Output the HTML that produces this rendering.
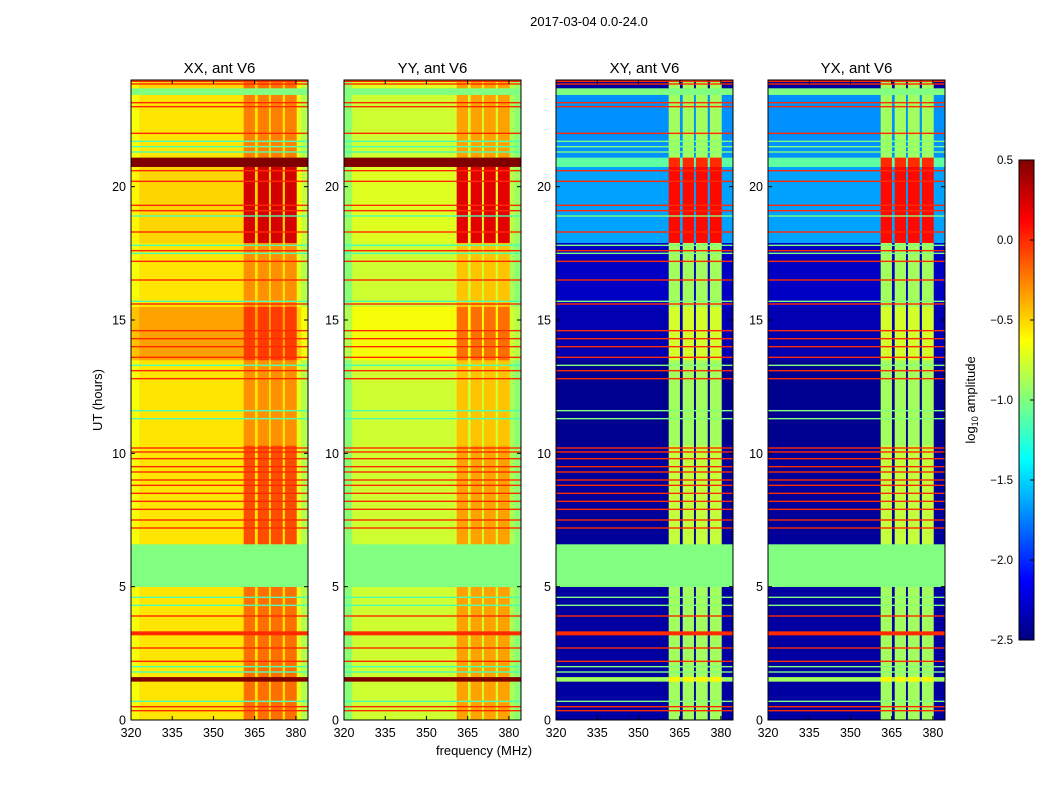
<!DOCTYPE html>
<html><head><meta charset="utf-8"><style>
body{margin:0;background:#fff;font-family:"Liberation Sans","DejaVu Sans",sans-serif}
svg text{font-family:"Liberation Sans","DejaVu Sans",sans-serif}
</style></head><body>
<svg id="fig" width="1050" height="800" viewBox="0 0 1050 800" xmlns="http://www.w3.org/2000/svg">
<rect width="1050" height="800" fill="#fff"/>
<text x="589" y="26" font-size="13" text-anchor="middle">2017-03-04 0.0-24.0</text>
<text x="484" y="755" font-size="13" text-anchor="middle">frequency (MHz)</text>
<text transform="translate(102,400) rotate(-90)" font-size="13" text-anchor="middle">UT (hours)</text>
<g id="panels"></g>
<defs><linearGradient id="jetgrad" x1="0" y1="1" x2="0" y2="0"></linearGradient></defs>
<rect x="1019" y="160" width="15" height="480" fill="url(#jetgrad)" stroke="#000" stroke-width="1"/>
<g id="cbticks"></g>
<text transform="translate(975,400) rotate(-90)" font-size="13" text-anchor="middle">log<tspan font-size="9" dy="3">10</tspan><tspan dy="-3"> amplitude</tspan></text>
</svg>
<script>
// ---- data ----
const panelTitles = ["XX, ant V6","YY, ant V6","XY, ant V6","YX, ant V6"];
const xTicks = [320,335,350,365,380];
const yTicks = [0,5,10,15,20];
const cbTicks = [0.5,0.0,-0.5,-1.0,-1.5,-2.0,-2.5];
const freqEdges = [320,323,361,365.1,366.1,370.2,370.9,375.2,376,380.3,382,384.4];
const colIsRfi = [0,0,1,0,1,0,1,0,1,0,0];
const xxColOff = [-0.1,0,0,0,0,0,0,0,0,-0.15,-0.3];
const yyColOff = [-0.2,0,0,0,0,0,0,0,0,-0.1,-0.2];
const xyColOff = [0,0,0,0,0,0,0,0,0,0,0];
const bandStart = [0,1.45,1.62,5.0,6.6,10.3,13.5,15.5,17.9,20.75,21.1,23.45,23.7];
const bandEnd   = [1.45,1.62,5.0,6.6,10.3,13.5,15.5,17.9,20.75,21.1,23.45,23.7,24];
const xxBg  = [-0.55,0.5,-0.55,-1.0,-0.55,-0.55,-0.35,-0.55,-0.5,0.5,-0.55,-1.0,-0.5];
const xxRfi = [-0.2,0.5,-0.2,-1.0,-0.1,-0.3,-0.05,-0.3,0.25,0.5,-0.25,-1.0,-0.2];
const yyBg  = [-0.77,0.5,-0.77,-1.0,-0.77,-0.77,-0.65,-0.77,-0.72,0.5,-0.77,-1.0,-0.72];
const yyRfi = [-0.35,0.5,-0.35,-1.0,-0.35,-0.45,-0.2,-0.45,0.2,0.5,-0.35,-1.0,-0.35];
const xyBg  = [-2.4,-0.9,-2.4,-1.0,-2.42,-2.45,-2.35,-2.3,-1.65,-1.1,-1.7,-1.0,-2.4];
const xyRfi = [-0.9,-0.6,-0.9,-1.0,-0.8,-0.9,-0.75,-0.9,0.1,0.0,-0.9,-1.0,-0.9];
const yxBg  = [-2.4,-0.9,-2.4,-1.0,-2.42,-2.45,-2.35,-2.3,-1.65,-1.1,-1.7,-1.0,-2.4];
const yxRfi = [-0.9,-0.6,-0.9,-1.0,-0.8,-0.9,-0.75,-0.9,0.1,0.0,-0.9,-1.0,-0.9];
const redLines = [0.35,0.5,3.25,3.9,2.7,2.2,7.2,7.5,7.9,8.2,8.5,8.8,9.0,9.3,9.5,9.8,10.05,10.2,12.8,13.1,13.6,14.0,14.3,14.6,15.6,16.5,17.2,17.6,18.3,19.1,19.3,20.2,20.6,22.0,23.0,23.15,23.85,23.95];
const greenLines = [0.7,1.8,2.0,4.3,4.6,11.3,11.6,13.3,15.7,17.5,17.8,18.9,21.3,21.5,21.7];
// ---- layout ----
const panelX0 = [131,344,556,768], pw = 177, py0 = 80, py1 = 720;
const fMin = 320, fMax = 384.4, tMin = 0, tMax = 24;
const bgs = [xxBg,yyBg,xyBg,yxBg], rfis = [xxRfi,yyRfi,xyRfi,yxRfi], offs = [xxColOff,yyColOff,xyColOff,xyColOff];
function jet(v){
  let t = (v + 2.5) / 3; t = Math.max(0, Math.min(1, t));
  const c = x => Math.max(0, Math.min(1, x));
  const r = c(Math.min(4*t-1.5, -4*t+4.5)), g = c(Math.min(4*t-0.5, -4*t+3.5)), b = c(Math.min(4*t+0.5, -4*t+2.5));
  return `rgb(${Math.round(r*255)},${Math.round(g*255)},${Math.round(b*255)})`;
}
const NS = "http://www.w3.org/2000/svg";
const root = document.getElementById("panels");
function mk(tag, attrs, parent){ const e = document.createElementNS(NS, tag); for (const k in attrs) e.setAttribute(k, attrs[k]); parent.appendChild(e); return e; }
panelTitles.forEach((title, p) => {
  const x0 = panelX0[p];
  const xs = f => x0 + (f - fMin) / (fMax - fMin) * pw;
  const ys = t => py1 - (t - tMin) / (tMax - tMin) * (py1 - py0);
  const g = mk("g", {}, root);
  
  
  const hm = mk("g", {}, g);
  
  
  for (let b = 0; b < bandStart.length; b++) {
    const flat = bgs[p][b] > 0.4 || bgs[p][b] === -1.0;
    for (let c = 0; c < colIsRfi.length; c++) {
      const v = (colIsRfi[c] ? rfis[p][b] : bgs[p][b]) + (flat ? 0 : offs[p][c]);
      const y1 = ys(bandEnd[b]), y2 = ys(bandStart[b]);
      const r = mk("rect", {x: xs(freqEdges[c]), y: y1, width: xs(freqEdges[c+1]) - xs(freqEdges[c]) + 0.3, height: y2 - y1 + 0.3, fill: jet(v)}, hm);
      
      
    }
  }
  redLines.forEach(h => {
    const l = mk("rect", {x: x0, y: ys(h) - (h === 3.25 ? 2 : 0.7), width: pw, height: h === 3.25 ? 4 : 1.4, fill: jet(0.0)}, g);
    
    
  });
  greenLines.forEach(h => {
    const l = mk("rect", {x: x0, y: ys(h) - 0.7, width: pw, height: 1.4, fill: jet(p < 2 ? -1.15 : -1.0)}, g);
    
    
  });
  const fr = mk("rect", {x: x0, y: py0, width: pw, height: py1 - py0, fill: "none", stroke: "#000", "stroke-width": 1}, g);
  
  
  const tt = mk("text", {x: x0 + pw/2, y: 73, "font-size": 15, "text-anchor": "middle"}, g);
  tt.textContent = title;
  
  
  xTicks.forEach(f => {
    const x = xs(f);
    mk("line", {x1: x, x2: x, y1: py1, y2: py1 - 4, stroke: "#000"}, g);
    mk("line", {x1: x, x2: x, y1: py0, y2: py0 + 4, stroke: "#000"}, g);
    const t = mk("text", {x: x, y: py1 + 17, "font-size": 12.5, "text-anchor": "middle"}, g);
    t.textContent = f;
    
    
  });
  yTicks.forEach(h => {
    const y = ys(h);
    mk("line", {x1: x0, x2: x0 + 4, y1: y, y2: y, stroke: "#000"}, g);
    mk("line", {x1: x0 + pw, x2: x0 + pw - 4, y1: y, y2: y, stroke: "#000"}, g);
    const t = mk("text", {x: x0 - 5, y: y + 4.5, "font-size": 12.5, "text-anchor": "end"}, g);
    t.textContent = h;
    
    
  });
});
// colorbar
const grad = document.getElementById("jetgrad");
for (let i = 0; i <= 24; i++) { const v = -2.5 + 3 * i / 24; mk("stop", {offset: (i/24*100) + "%", "stop-color": jet(v)}, grad); }
const cbg = document.getElementById("cbticks");
cbTicks.forEach(v => {
  const y = 640 - (v + 2.5) / 3 * 480;
  mk("line", {x1: 1030, x2: 1034, y1: y, y2: y, stroke: "#000"}, cbg);
  const t = mk("text", {x: 1013, y: y + 4, "font-size": 11.5, "text-anchor": "end"}, cbg);
  t.textContent = (v < 0 ? "\u2212" : "") + Math.abs(v).toFixed(1);
  
  
});
</script>
</body></html>
